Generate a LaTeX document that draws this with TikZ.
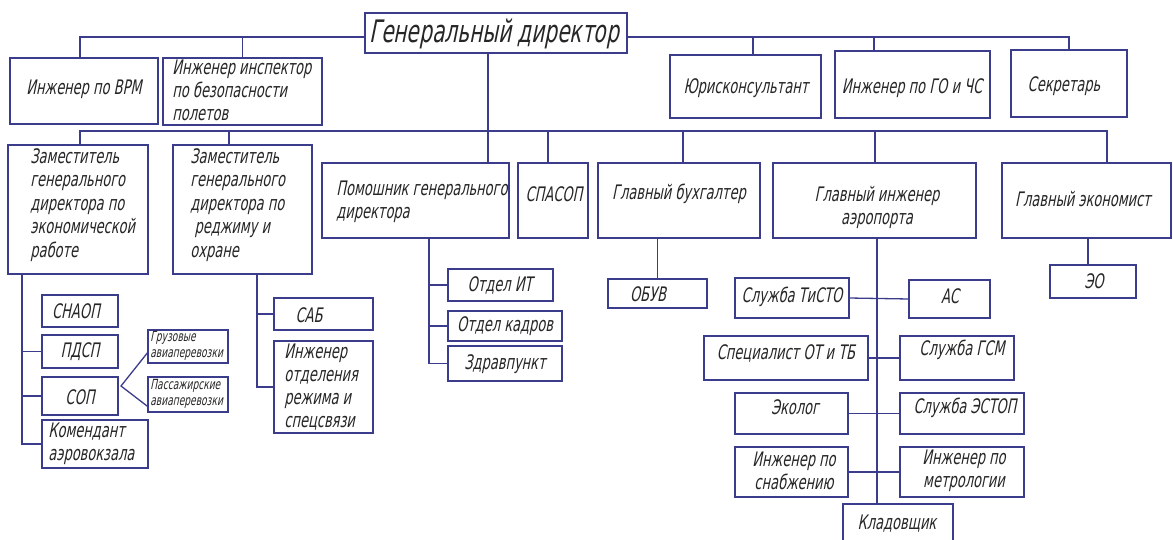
\documentclass[tikz,border=0pt]{standalone}
\usepackage{fontspec}
\setmainfont{DejaVu Sans}[FakeSlant=0.2,FakeStretch=0.65]
\definecolor{ln}{HTML}{3C3C8C}
\definecolor{tx}{HTML}{262626}
\newcommand\bx[5]{\node[box, minimum width={(#4-#2)*0.5pt}, minimum height={(#5-#3)*0.5pt}] (#1) at ({(#2+#4)/2},{(#3+#5)/2}) {};}
\begin{document}
\begin{tikzpicture}[x=0.5pt,y=-0.5pt,
  box/.style={draw=ln, line width=0.65pt, inner sep=0pt, outer sep=0pt, fill=white},
  con/.style={draw=ln, line width=0.65pt},
  txt/.style={inner sep=0pt, text=tx, font=\fontsize{10}{11.5}\selectfont, align=left},
  txtc/.style={txt, align=center},
  big/.style={inner sep=0pt, text=tx, font=\fontsize{15.5}{17}\selectfont},
  small/.style={inner sep=0pt, text=tx, font=\fontsize{7}{7.8}\selectfont, align=left}]
\useasboundingbox[fill=white] (0,0) rectangle (1173,540);
% boxes
\bx{gd}{365}{13}{627}{53}
\bx{vrm}{10}{58}{158}{124}
\bx{insp}{163}{58}{322}{125}
\bx{jur}{670}{55}{821}{118}
\bx{go}{835}{51}{990}{118}
\bx{sec}{1011}{50}{1127}{117}
\bx{zame}{8}{145}{148}{274}
\bx{zamr}{173}{145}{312}{274}
\bx{pom}{322}{163}{509}{238}
\bx{spa}{518}{163}{588}{238}
\bx{buh}{598}{163}{760}{238}
\bx{gi}{773}{163}{976}{238}
\bx{ek}{1002}{163}{1171}{238}
\bx{snaop}{42}{295}{118}{327}
\bx{pdsp}{42}{335}{118}{368}
\bx{sop}{42}{377}{118}{415}
\bx{kom}{42}{420}{148}{468}
\bx{gruz}{148}{330}{228}{363}
\bx{pass}{148}{377}{228}{412}
\bx{sab}{274}{298}{373}{330}
\bx{ior}{274}{341}{373}{433}
\bx{oit}{448}{269}{553}{301}
\bx{okad}{448}{311}{562}{341}
\bx{zdr}{448}{346}{562}{381}
\bx{obuv}{608}{279}{707}{308}
\bx{eo}{1050}{265}{1136}{298}
\bx{tisto}{735}{278}{849}{318}
\bx{as}{909}{280}{990}{318}
\bx{spot}{704}{336}{868}{380}
\bx{gsm}{900}{336}{1014}{380}
\bx{ekol}{735}{393}{848}{434}
\bx{estop}{900}{393}{1024}{434}
\bx{snab}{735}{447}{848}{497}
\bx{metr}{900}{447}{1024}{497}
\bx{klad}{843}{504}{953}{552}
% level 1 connectors
\coordinate (b1l) at (80,37);
\coordinate (b1r) at (1069,37);
\coordinate (tj) at (753,37);
\coordinate (tg) at (874,37);
\draw[con] (gd.west |- b1l) -- (b1l) -- (vrm.north -| b1l);
\draw[con] (gd.east |- b1r) -- (b1r) -- (sec.north -| b1r);
\draw[con] (insp.north) -- (insp.north |- b1l);
\draw[con] (tj) -- (tj |- jur.north);
\draw[con] (tg) -- (tg |- go.north);
% level 2 connectors
\coordinate (b2) at (488,131);
\coordinate (b2l) at (80,131);
\coordinate (b2r) at (1107,131);
\coordinate (t2a) at (229,131);
\coordinate (t2b) at (548,131);
\coordinate (t2c) at (683,131);
\coordinate (t2d) at (875,131);
\draw[con] (gd.south -| b2) -- (pom.north -| b2);
\draw[con] (zame.north -| b2l) -- (b2l) -- (b2r) -- (ek.north -| b2r);
\draw[con] (t2a) -- (t2a |- zamr.north);
\draw[con] (t2b) -- (t2b |- spa.north);
\draw[con] (t2c) -- (t2c |- buh.north);
\draw[con] (t2d) -- (t2d |- gi.north);
% economic deputy
\coordinate (ve) at (22,274);
\draw[con] (zame.south -| ve) |- (kom.west);
\draw[con] (pdsp.west) -- (pdsp.west -| ve);
\draw[con] (sop.west) -- (sop.west -| ve);
\coordinate (sj) at (121,386);
\draw[con] (gruz.188) -- (sj) -- (pass.197);
% regime deputy
\coordinate (vr) at (257,274);
\draw[con] (zamr.south -| vr) |- (ior.west);
\draw[con] (sab.west) -- (sab.west -| vr);
% assistant
\coordinate (vp) at (429,238);
\draw[con] (pom.south -| vp) |- (zdr.west);
\draw[con] (oit.west) -- (oit.west -| vp);
\draw[con] (okad.west) -- (okad.west -| vp);
% accountant, economist
\draw[con] (obuv.north |- buh.south) -- (obuv.north);
\coordinate (vk) at (1088,238);
\draw[con] (ek.south -| vk) -- (eo.north -| vk);
% chief engineer
\coordinate (vg) at (877,238);
\draw[con] (gi.south -| vg) -- (klad.north -| vg);
\draw[con] (tisto.east) -- (as.west);
\draw[con] (spot.east) -- (gsm.west);
\draw[con] (ekol.east) -- (estop.west);
\draw[con] (snab.east) -- (metr.west);
% texts
\node[big] (t-gd) at (494,34) {Генеральный директор};
\node[txt] (t-vrm) at (84,89) {Инженер по ВРМ};
\node[txt, anchor=west] (t-insp) at (172,90) {Инженер инспектор\\по безопасности\\полетов};
\node[txt] (t-jur) at (746,88) {Юрисконсультант};
\node[txt] (t-go) at (912,88) {Инженер по ГО и ЧС};
\node[txt] (t-sec) at (1064,86) {Секретарь};
\node[txt, anchor=west, font=\fontsize{10}{11.7}\selectfont] (t-zame) at (30,205) {Заместитель\\генерального\\директора по\\экономической\\работе};
\node[txt, anchor=west, font=\fontsize{10}{11.7}\selectfont] (t-zamr) at (190,205) {Заместитель\\генерального\\директора по\\\ реджиму и\\охране};
\node[txt, anchor=west] (t-pom) at (336,202) {Помошник генерального\\директора};
\node[txt] (t-spa) at (554,194) {СПАСОП};
\node[txt] (t-buh) at (679,194) {Главный бухгалтер};
\node[txtc] (t-gi) at (877,207) {Главный инженер\\аэропорта};
\node[txt] (t-ek) at (1083,199) {Главный экономист};
\node[txt] (t-snaop) at (76,311) {СНАОП};
\node[txt] (t-pdsp) at (80,352) {ПДСП};
\node[txt] (t-sop) at (80,397) {СОП};
\node[txt, anchor=west] (t-kom) at (48,444) {Комендант\\аэровокзала};
\node[small, anchor=west] (t-gruz) at (150,346) {Грузовые\\авиаперевозки};
\node[small, anchor=west] (t-pass) at (150,394) {Пассажирские\\авиаперевозки};
\node[txt] (t-sab) at (309,315) {САБ};
\node[txt, anchor=west] (t-ior) at (284,387) {Инженер\\отделения\\режима и\\спецсвязи};
\node[txt] (t-oit) at (500,285) {Отдел ИТ};
\node[txt] (t-okad) at (505,326) {Отдел кадров};
\node[txt] (t-zdr) at (505,364) {Здравпункт};
\node[txt] (t-obuv) at (648,294) {ОБУВ};
\node[txt] (t-eo) at (1094,281) {ЭО};
\node[txt] (t-tisto) at (792,297) {Служба ТиСТО};
\node[txt] (t-as) at (950,296) {АС};
\node[txt] (t-spot) at (786,353) {Специалист ОТ и ТБ};
\node[txt] (t-gsm) at (962,350) {Служба ГСМ};
\node[txt] (t-ekol) at (795,407) {Эколог};
\node[txt] (t-estop) at (965,408) {Служба ЭСТОП};
\node[txtc] (t-snab) at (794,471) {Инженер по\\снабжению};
\node[txtc] (t-metr) at (964,471) {Инженер по\\метрологии};
\node[txt] (t-klad) at (897,524) {Кладовщик};
\end{tikzpicture}
\end{document}
